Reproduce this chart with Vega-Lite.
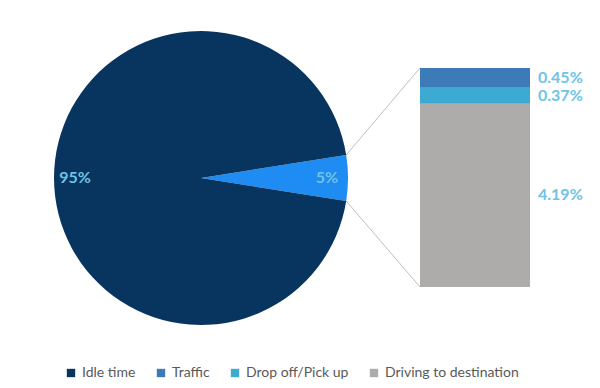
{
  "$schema": "https://vega.github.io/schema/vega-lite/v6.json",
  "width": 600,
  "height": 388,
  "padding": 0,
  "autosize": {"type": "none"},
  "background": "white",
  "config": {"view": {"stroke": null}},
  "datasets": {
    "pie": [
      {"category": "Other", "pct": 5, "label": "5%", "ord": 1},
      {"category": "Idle time", "pct": 95, "label": "95%", "ord": 2}
    ],
    "bar": [
      {"category": "Driving to destination", "pct": 4.19, "label": "4.19%", "ord": 1},
      {"category": "Drop off/Pick up", "pct": 0.37, "label": "0.37%", "ord": 2},
      {"category": "Traffic", "pct": 0.45, "label": "0.45%", "ord": 3}
    ],
    "links": [
      {"x": -0.671, "y": 3.019, "x2": 0, "y2": 5.01},
      {"x": -0.671, "y": 1.967, "x2": 0, "y2": 0}
    ]
  },
  "layer": [
    {
      "data": {"name": "links"},
      "mark": {"type": "rule", "color": "#BFBFBF", "strokeWidth": 1},
      "encoding": {
        "x": {"field": "x", "type": "quantitative", "axis": null, "scale": {"domain": [-3.8182, 1.6364], "nice": false, "zero": false, "padding": 0}},
        "y": {"field": "y", "type": "quantitative", "axis": null, "scale": {"domain": [-2.311, 6.565], "nice": false, "zero": false, "padding": 0}},
        "x2": {"field": "x2"},
        "y2": {"field": "y2"}
      }
    },
    {
      "data": {"name": "pie"},
      "mark": {"type": "arc", "radius": 147},
      "encoding": {
        "x": {"datum": -1.9909, "type": "quantitative"},
        "y": {"datum": 2.493, "type": "quantitative"},
        "theta": {"field": "pct", "type": "quantitative", "stack": true, "scale": {"range": [1.4137, 7.6969]}},
        "order": {"field": "ord", "type": "quantitative"},
        "color": {
          "field": "category", "type": "nominal",
          "scale": {
            "domain": ["Idle time", "Traffic", "Drop off/Pick up", "Driving to destination", "Other"],
            "range": ["#08355F", "#3D7AB8", "#3DABD1", "#AEABAB", "#1E8CF2"]
          },
          "legend": {
            "values": ["Idle time", "Traffic", "Drop off/Pick up", "Driving to destination"],
            "title": null,
            "orient": "none",
            "direction": "horizontal",
            "legendX": 64,
            "legendY": 366,
            "symbolType": "square",
            "symbolSize": 70,
            "symbolStrokeWidth": 0,
            "labelFont": "Lato",
            "labelFontSize": 14,
            "labelColor": "#595959",
            "columnPadding": 18
          }
        }
      }
    },
    {
      "data": {"name": "pie"},
      "mark": {"type": "text", "radius": 126, "font": "Lato", "fontWeight": "bold", "fontSize": 16, "color": "#6EC3E6"},
      "encoding": {
        "x": {"datum": -1.9909, "type": "quantitative"},
        "y": {"datum": 2.493, "type": "quantitative"},
        "theta": {"field": "pct", "type": "quantitative", "stack": true},
        "order": {"field": "ord", "type": "quantitative"},
        "text": {"field": "label"}
      }
    },
    {
      "data": {"name": "bar"},
      "mark": {"type": "bar", "orient": "vertical"},
      "encoding": {
        "x": {"datum": 0, "type": "quantitative"},
        "x2": {"datum": 1},
        "y": {"field": "pct", "type": "quantitative", "stack": "zero"},
        "order": {"field": "ord", "type": "quantitative"},
        "color": {"field": "category", "type": "nominal"}
      }
    },
    {
      "data": {"name": "bar"},
      "mark": {"type": "text", "align": "left", "dx": 8, "font": "Lato", "fontWeight": "bold", "fontSize": 16, "color": "#6EC3E6"},
      "encoding": {
        "x": {"datum": 1, "type": "quantitative"},
        "y": {"field": "pct", "type": "quantitative", "stack": "zero", "bandPosition": 0.5},
        "order": {"field": "ord", "type": "quantitative"},
        "text": {"field": "label"}
      }
    }
  ]
}
